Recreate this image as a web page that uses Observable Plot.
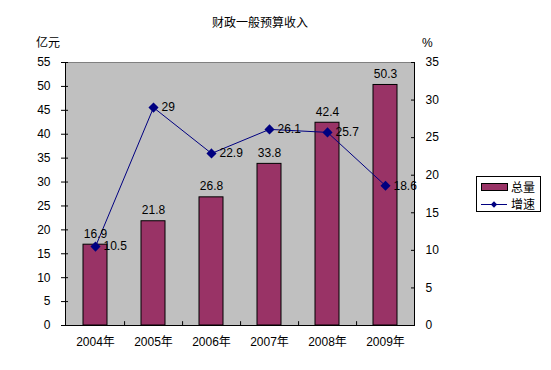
<!DOCTYPE html>
<html>
<head>
<meta charset="utf-8">
<script src="https://cdn.jsdelivr.net/npm/d3@7"></script>
<script src="https://cdn.jsdelivr.net/npm/@observablehq/plot@0.6"></script>
<style>
  html, body { margin: 0; padding: 0; background: #fff; }
  #wrap { position: relative; width: 551px; height: 370px; font-family: 'Liberation Sans', 'Noto Sans CJK SC', sans-serif; font-size: 12px; color: #000; }
  #chart { position: absolute; left: 0; top: 0; }
  .lbl { position: absolute; white-space: nowrap; line-height: 14px; }
  #legend { position: absolute; left: 476px; top: 176px; width: 63px; height: 34px; border: 1px solid #000; background: #fff; }
</style>
</head>
<body>
<div id="wrap">
  <div id="chart"></div>
  <div class="lbl" id="title" style="left:212px; top:15px; font-family:'Noto Sans CJK SC', sans-serif;">财政一般预算收入</div>
  <div class="lbl" id="ylab" style="left:36px; top:35px; font-family:'Noto Sans CJK SC', sans-serif;">亿元</div>
  <div class="lbl" id="y2lab" style="left:422px; top:36px;">%</div>
  <div id="legend"></div>
</div>
<script>
const years = ["2004年", "2005年", "2006年", "2007年", "2008年", "2009年"];
const totals = [16.9, 21.8, 26.8, 33.8, 42.4, 50.3];
const growth = [10.5, 29, 22.9, 26.1, 25.7, 18.6];
const leftTicks = [0, 5, 10, 15, 20, 25, 30, 35, 40, 45, 50, 55];
const rightTicks = [0, 5, 10, 15, 20, 25, 30, 35];
const seriesNames = ["总量", "增速"];

const leftMax = 55, rightMax = 35;
const k = leftMax / rightMax;
const barColor = "#993366", lineColor = "#000080";

const data = years.map((y, i) => ({year: y, total: totals[i], growth: growth[i], g: growth[i] * k}));

const W = 551, H = 370;
const mL = 65, mR = 137, mT = 62, mB = 45;
const step = (W - mL - mR) / years.length;

const chart = Plot.plot({
  width: W, height: H,
  marginLeft: mL, marginRight: mR, marginTop: mT, marginBottom: mB,
  style: {fontFamily: "'Liberation Sans', 'Noto Sans CJK SC', sans-serif", fontSize: "12px", color: "#000", background: "transparent"},
  x: {domain: years, paddingInner: 0.59, paddingOuter: 0.295},
  y: {domain: [0, leftMax]},
  marks: [
    Plot.frame({fill: "#c0c0c0", stroke: "#808080"}),
    Plot.barY(data, {x: "year", y: "total", fill: barColor, stroke: "#000", strokeWidth: 1}),
    Plot.ruleX(years.slice(0, -1), {x: d => d, dx: step / 2, y1: 0, y2: 0.8, stroke: "#000"}),
    Plot.frame({anchor: "left", stroke: "#000"}),
    Plot.frame({anchor: "right", stroke: "#000"}),
    Plot.frame({anchor: "bottom", stroke: "#000"}),
    Plot.axisY(leftTicks, {anchor: "left", tickSize: 7, dx: 3, tickPadding: 11, label: null, tickFormat: d => d}),
    Plot.axisY(rightTicks.map(t => t * k), {anchor: "right", tickSize: 4, dx: -4, tickPadding: 11, label: null, tickFormat: d => Math.round(d / k)}),
    Plot.axisX({tickSize: 0, tickPadding: 12, label: null}),
    Plot.line(data, {x: "year", y: "g", stroke: lineColor, strokeWidth: 1}),
    Plot.dot(data, {x: "year", y: "g", symbol: "diamond2", r: 3.6, fill: lineColor, stroke: lineColor}),
    Plot.text(data, {x: "year", y: "total", text: d => String(d.total), dy: -11, fill: "#000"}),
    Plot.text(data, {x: "year", y: "g", text: d => String(d.growth), textAnchor: "start", dx: 8, fill: "#000"})
  ]
});
document.getElementById("chart").appendChild(chart);

// legend
const leg = d3.select("#legend").append("svg").attr("width", 63).attr("height", 34);
leg.append("rect").attr("x", 4.5).attr("y", 6.5).attr("width", 26).attr("height", 7).attr("fill", barColor).attr("stroke", "#000");
leg.append("text").attr("x", 34).attr("y", 14.5).text(seriesNames[0]).style("font-family", "'Noto Sans CJK SC', sans-serif").style("font-size", "12px");
leg.append("line").attr("x1", 4).attr("x2", 30).attr("y1", 27.5).attr("y2", 27.5).attr("stroke", lineColor);
leg.append("path").attr("d", d3.symbol(d3.symbolDiamond2, 26)()).attr("transform", "translate(17,27.5)").attr("fill", lineColor);
leg.append("text").attr("x", 34).attr("y", 32).text(seriesNames[1]).style("font-family", "'Noto Sans CJK SC', sans-serif").style("font-size", "12px");
</script>
</body>
</html>
